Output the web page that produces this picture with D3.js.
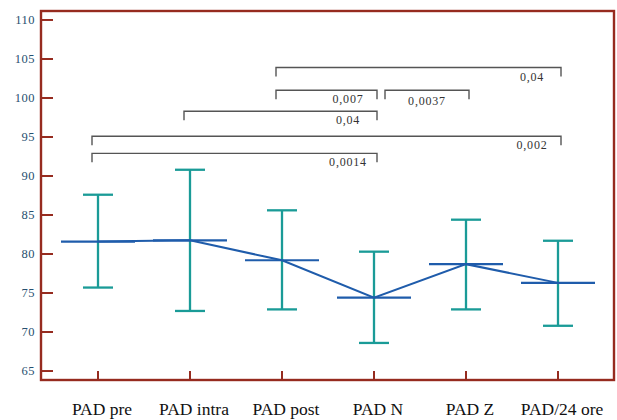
<!DOCTYPE html>
<html>
<head>
<meta charset="utf-8">
<script src="https://cdn.jsdelivr.net/npm/d3@7"></script>
<style>
  body { margin: 0; background: #fff; }
  svg { display: block; }
</style>
</head>
<body>
<div id="chart"></div>
<script>
// categories and values
var categories = ["PAD pre", "PAD intra", "PAD post", "PAD N", "PAD Z", "PAD/24 ore"];
var means = [81.6, 81.75, 79.2, 74.4, 78.7, 76.3];
var upper = [87.6, 90.8, 85.6, 80.3, 84.4, 81.7];
var lower = [75.7, 72.7, 72.9, 68.6, 72.9, 70.8];
var yTicks = [65, 70, 75, 80, 85, 90, 95, 100, 105, 110];

// significance brackets
var bracketFrom = ["PAD post", "PAD post", "PAD N", "PAD intra", "PAD pre", "PAD pre"];
var bracketTo = ["PAD/24 ore", "PAD N", "PAD Z", "PAD N", "PAD/24 ore", "PAD N"];
var bracketLevel = [103.9, 101.0, 101.0, 98.3, 95.1, 92.9];
var bracketP = ["0,04", "0,007", "0,0037", "0,04", "0,002", "0,0014"];

(function() {
    var W = 617, H = 420;
    var mLeft = 41, mTop = 11, mRight = 614, mBottom = 380;
    var red = "#962b1f", teal = "#1a9b97", blue = "#1f5cab";
    var serif = "Liberation Serif, Times New Roman, serif";

    var svg = d3.select("#chart").append("svg")
        .attr("width", W)
        .attr("height", H);

    var x = d3.scalePoint()
        .domain(categories)
        .range([mLeft + 57, mRight - 56]);

    var y = d3.scaleLinear()
        .domain([63.85, 111.15])
        .range([mBottom, mTop]);

    // brackets
    var br = svg.append("g").attr("class", "brackets");
    bracketP.forEach(function(p, i) {
        // if another bracket on the same level ends where this one starts, leave a gap
        var joined = bracketTo.some(function(t, j) {
            return j !== i && t === bracketFrom[i] && bracketLevel[j] === bracketLevel[i];
        });
        var x1 = x(bracketFrom[i]) + (joined ? 11 : -6);
        var x2 = x(bracketTo[i]) + 3;
        var yy = y(bracketLevel[i]);
        br.append("path")
            .attr("d", "M" + x1 + "," + (yy + 9) + "V" + yy + "H" + x2 + "V" + (yy + 9))
            .attr("fill", "none")
            .attr("stroke", "#555")
            .attr("stroke-width", 1.4);
        br.append("text")
            .attr("x", joined ? (x1 + x2) / 2 : x2 - 29)
            .attr("y", yy + (joined ? 15 : 13))
            .attr("text-anchor", "middle")
            .attr("font-family", serif)
            .attr("font-size", 12)
            .attr("letter-spacing", 0.8)
            .attr("fill", "#333")
            .text(p);
    });

    // error bars
    var eb = svg.append("g").attr("class", "errorbars");
    eb.selectAll(".stem")
        .data(categories)
        .enter().append("line")
        .attr("x1", function(d) { return x(d); })
        .attr("x2", function(d) { return x(d); })
        .attr("y1", function(d, i) { return y(upper[i]); })
        .attr("y2", function(d, i) { return y(lower[i]); })
        .attr("stroke", teal)
        .attr("stroke-width", 2.3);
    [upper, lower].forEach(function(arr) {
        eb.selectAll(null)
            .data(categories)
            .enter().append("line")
            .attr("x1", function(d) { return x(d) - 15; })
            .attr("x2", function(d) { return x(d) + 15; })
            .attr("y1", function(d, i) { return y(arr[i]); })
            .attr("y2", function(d, i) { return y(arr[i]); })
            .attr("stroke", teal)
            .attr("stroke-width", 2.3);
    });

    // mean bars and connecting line
    svg.append("g").selectAll("line")
        .data(categories)
        .enter().append("line")
        .attr("x1", function(d) { return x(d) - 37; })
        .attr("x2", function(d) { return x(d) + 37; })
        .attr("y1", function(d, i) { return y(means[i]); })
        .attr("y2", function(d, i) { return y(means[i]); })
        .attr("stroke", blue)
        .attr("stroke-width", 2.2);

    var line = d3.line()
        .x(function(d) { return x(d); })
        .y(function(d, i) { return y(means[i]); });

    svg.append("path")
        .datum(categories)
        .attr("d", line)
        .attr("fill", "none")
        .attr("stroke", blue)
        .attr("stroke-width", 2);

    // frame
    svg.append("rect")
        .attr("x", mLeft)
        .attr("y", mTop)
        .attr("width", mRight - mLeft)
        .attr("height", mBottom - mTop)
        .attr("fill", "none")
        .attr("stroke", red)
        .attr("stroke-width", 2.4);

    // y axis ticks (inside) and labels
    var yAxis = svg.append("g");
    yAxis.selectAll("line")
        .data(yTicks)
        .enter().append("line")
        .attr("x1", mLeft)
        .attr("x2", mLeft + 12)
        .attr("y1", function(d) { return y(d); })
        .attr("y2", function(d) { return y(d); })
        .attr("stroke", red)
        .attr("stroke-width", 2);
    yAxis.selectAll("text")
        .data(yTicks)
        .enter().append("text")
        .attr("x", mLeft - 6)
        .attr("y", function(d) { return y(d); })
        .attr("dy", "0.35em")
        .attr("text-anchor", "end")
        .attr("font-family", serif)
        .attr("font-size", 12.5)
        .attr("letter-spacing", 0.5)
        .attr("fill", "#27506f")
        .text(function(d) { return d; });

    // x axis ticks (inside) and labels
    var xAxis = svg.append("g");
    xAxis.selectAll("line")
        .data(categories)
        .enter().append("line")
        .attr("x1", function(d) { return x(d); })
        .attr("x2", function(d) { return x(d); })
        .attr("y1", mBottom)
        .attr("y2", mBottom - 9)
        .attr("stroke", red)
        .attr("stroke-width", 2);
    xAxis.selectAll("text")
        .data(categories)
        .enter().append("text")
        .attr("x", function(d) { return x(d) + 4; })
        .attr("y", 415)
        .attr("text-anchor", "middle")
        .attr("font-family", serif)
        .attr("font-size", 17.5)
        .attr("fill", "#111")
        .text(function(d) { return d; });
})();
</script>
</body>
</html>
